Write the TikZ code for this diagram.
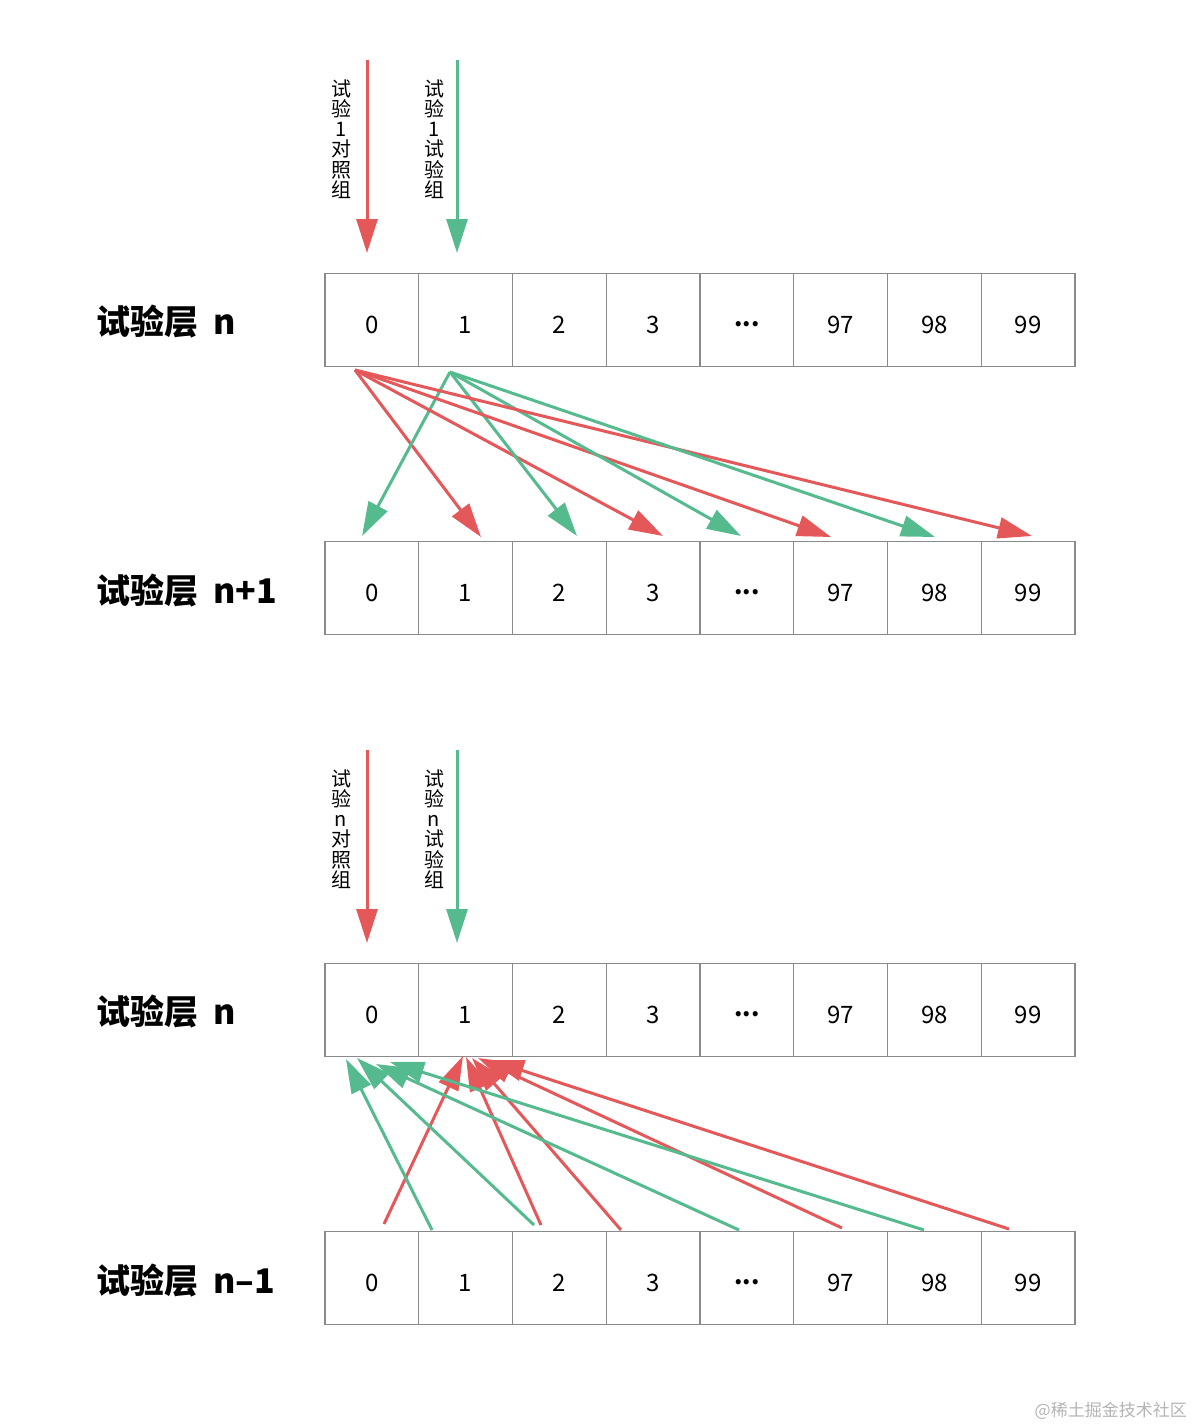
\documentclass[tikz,border=0pt]{standalone}
\usepackage{fontspec}
\setmainfont{Noto Sans CJK SC}
\usepackage{xcolor}
\usepackage{tikz}
\usetikzlibrary{arrows.meta, positioning, calc}
\definecolor{hongse}{HTML}{E5585A}
\definecolor{lvse}{HTML}{55BB8E}
\definecolor{biankuang}{HTML}{8A8A8A}
\definecolor{shuiyinse}{HTML}{B4B4B4}

\begin{document}
\begin{tikzpicture}[x=1pt, y=-1pt,
    gezi/.style={draw=biankuang, line width=1.2pt, minimum width=93.75pt, minimum height=93.5pt,
                 inner sep=0pt, text height=27pt, text depth=0pt, font=\fontsize{24}{24}\selectfont},
    ceng/.style={anchor=west, inner sep=0pt, font=\fontsize{34}{34}\selectfont\bfseries},
    zu/.style={align=center, inner sep=0pt, font=\fontsize{20}{20.3}\selectfont},
    hongjian/.style={-{Triangle[length=34pt, width=21pt]}, line width=3pt, hongse},
    lvjian/.style={-{Triangle[length=34pt, width=21pt]}, line width=3pt, lvse}
]
    \useasboundingbox (0,0) rectangle (1193,1428);

    \foreach \r/\y in {a/320, b/588, c/1010, d/1278}
        \foreach \v [count=\i from 0] in {0,1,2,3,\raisebox{7.5pt}{\textbf{...}},97,98,99}
            \node[gezi] (\r\i) at ({371.875+93.75*\i},\y) {\v};

    \node[ceng] (ca) at (96,322) {试验层\hspace{0.45em}n};
    \node[ceng] (cb) at (96,591) {试验层\hspace{0.45em}n+1};
    \node[ceng] (cc) at (96,1012) {试验层\hspace{0.45em}n};
    \node[ceng] (cd) at (96,1281) {试验层\hspace{0.45em}n–1};

    \node[zu] (za) at (341,139) {试\\验\\1\\对\\照\\组};
    \node[zu] (zb) at (434,139) {试\\验\\1\\试\\验\\组};
    \node[zu] (zc) at (341,829) {试\\验\\n\\对\\照\\组};
    \node[zu] (zd) at (434,829) {试\\验\\n\\试\\验\\组};

    \coordinate (ha0) at (367,60);
    \coordinate (ha1) at (367,253);
    \coordinate (la0) at (457,60);
    \coordinate (la1) at (457,253);
    \coordinate (hc0) at (367,750);
    \coordinate (hc1) at (367,943);
    \coordinate (lc0) at (457,750);
    \coordinate (lc1) at (457,943);
    \draw[hongjian] (ha0) -- (ha1);
    \draw[lvjian] (la0) -- (la1);
    \draw[hongjian] (hc0) -- (hc1);
    \draw[lvjian] (lc0) -- (lc1);

    \coordinate (hq) at (355,370);
    \coordinate (lq) at (450,372);
    \foreach \x/\y [count=\k] in {481/537, 663/536, 831/537, 1032/536}
        \coordinate (hm\k) at (\x,\y);
    \foreach \x/\y [count=\k] in {362/536, 577/536, 741/536, 935/537}
        \coordinate (lm\k) at (\x,\y);
    \foreach \k in {1,...,4}{
        \draw[hongjian] (hq) -- (hm\k);
        \draw[lvjian] (lq) -- (lm\k);
    }

    \foreach \x/\y [count=\k] in {384/1224, 541/1225, 621/1230, 842/1228, 1009/1229}
        \coordinate (hw\k) at (\x,\y);
    \foreach \x/\y [count=\k] in {463/1056, 466/1057, 472/1058, 478/1058, 490/1060}
        \coordinate (hz\k) at (\x,\y);
    \foreach \x/\y [count=\k] in {432/1230, 534/1225, 739/1230, 924/1230}
        \coordinate (lw\k) at (\x,\y);
    \foreach \x/\y [count=\k] in {346/1059, 357/1058, 376/1064, 390/1062}
        \coordinate (lz\k) at (\x,\y);
    \foreach \k in {1,...,5}
        \draw[hongjian] (hw\k) -- (hz\k);
    \foreach \k in {1,...,4}
        \draw[lvjian] (lw\k) -- (lz\k);

    \node[anchor=east, inner sep=0pt, text=shuiyinse, font=\fontsize{17}{17}\selectfont] (sy) at (1187,1411) {@稀土掘金技术社区};
\end{tikzpicture}
\end{document}
